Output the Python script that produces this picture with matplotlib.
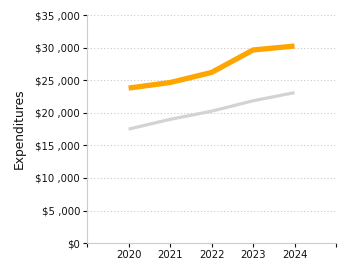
import matplotlib.pyplot as plt
from matplotlib.ticker import FuncFormatter

years = [2020, 2021, 2022, 2023, 2024]
orange_vals = [23800, 24650, 26200, 29650, 30250]
gray_vals = [17500, 19000, 20250, 21850, 23100]

plt.rcParams['font.family'] = ['Verdana', 'DejaVu Sans']

fig = plt.figure(figsize=(3.5, 2.75), dpi=100)
ax = fig.add_axes([0.249, 0.116, 0.711, 0.829])

ax.plot(years, gray_vals, color='#d3d3d3', lw=2.3, solid_capstyle='butt', zorder=3)
ax.plot(years, orange_vals, color='#ffa500', lw=3.8, solid_capstyle='butt', zorder=4)

ax.set_xlim(2019, 2025)
ax.set_ylim(0, 35000)
ax.set_xticks(range(2019, 2026))
ax.set_xticklabels([''] + [str(y) for y in years] + [''])
ax.set_yticks(range(0, 35001, 5000))
ax.yaxis.set_major_formatter(FuncFormatter(lambda v, p: '$' + format(int(v), ',').replace(',', ' ,')))

ax.grid(axis='y', color='#c8c8c8', linestyle=(0, (1, 2)), lw=0.8)
ax.set_axisbelow(True)
for s in ['top', 'right']:
    ax.spines[s].set_visible(False)
for s in ['left', 'bottom']:
    ax.spines[s].set_color('#cccccc')
ax.tick_params(labelsize=7.3, colors='#111111', length=3, width=0.8, pad=2)
ax.set_ylabel('Expenditures', fontsize=8.8, color='#111111', labelpad=7)

plt.savefig('out.png', dpi=100)
